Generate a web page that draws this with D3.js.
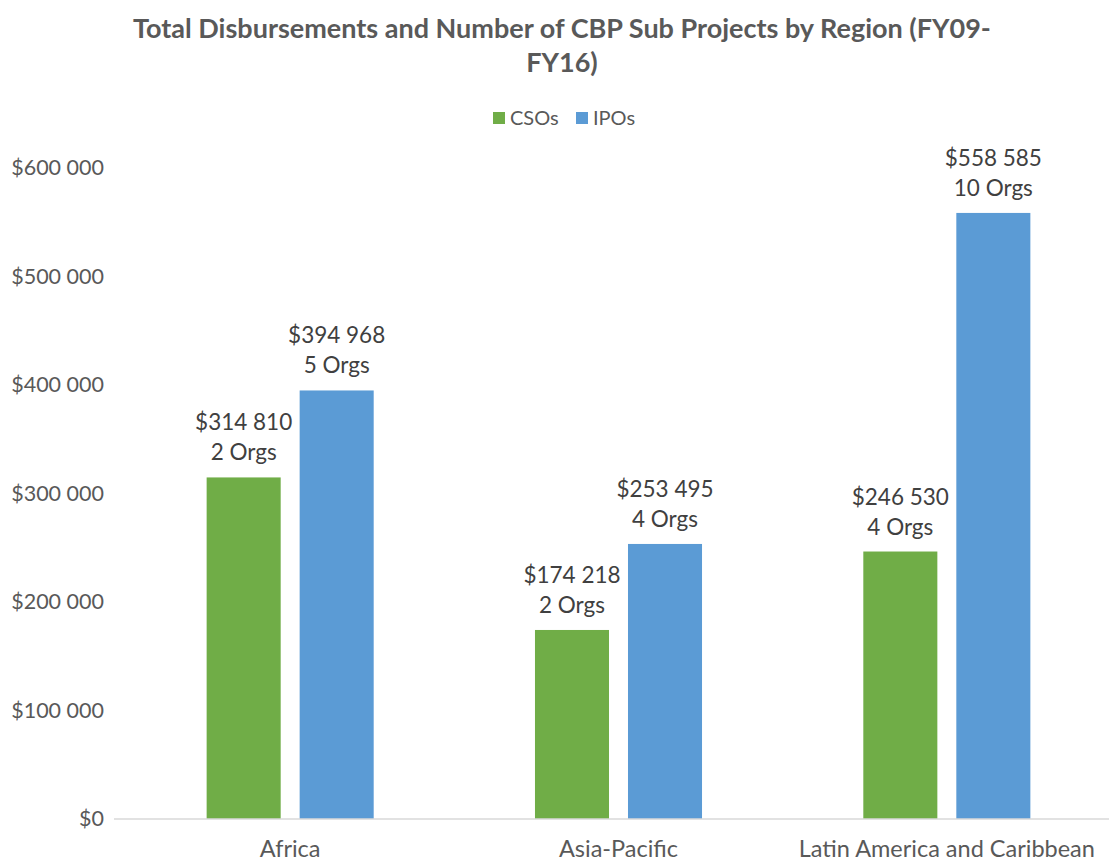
<!DOCTYPE html>
<html>
<head>
<meta charset="utf-8">
<script src="https://cdn.jsdelivr.net/npm/d3@7"></script>
<style>
  body { margin: 0; background: #fff; }
  svg text { font-family: Lato, "Open Sans", sans-serif; }
</style>
</head>
<body>
<svg id="chart" width="1109" height="864"></svg>
<script>
// Data
const regions = ["Africa", "Asia-Pacific", "Latin America and Caribbean"];
const seriesNames = ["CSOs", "IPOs"];
const csoValues = [314810, 174218, 246530];
const ipoValues = [394968, 253495, 558585];
const csoOrgs = [2, 2, 4];
const ipoOrgs = [5, 4, 10];
const yTicks = [0, 100000, 200000, 300000, 400000, 500000, 600000];
const colors = ["#70AD47", "#5B9BD5"];

const svg = d3.select("#chart");
const width = +svg.attr("width");
const height = +svg.attr("height");
const margin = { top: 168, right: -2, bottom: 45, left: 126 };
const plotBottom = height - margin.bottom;

const locale = d3.formatLocale({ decimal: ".", thousands: " ", grouping: [3], currency: ["$", ""] });
const money = locale.format("$,.0f");

const x = d3.scaleBand()
    .domain(regions)
    .range([margin.left, width - margin.right])
    .paddingInner(0)
    .paddingOuter(0);

// two bars of ~74px with a ~19px gap, centred in each region band
const xInner = d3.scaleBand()
    .domain(seriesNames)
    .range([0, x.bandwidth()])
    .paddingInner(0.204)
    .paddingOuter(0.867);

const y = d3.scaleLinear()
    .domain([0, 600000])
    .range([plotBottom, margin.top]);

// Title
const title = svg.append("text")
    .attr("text-anchor", "middle")
    .attr("fill", "#595959")
    .attr("font-size", "27px")
    .attr("font-weight", "bold");
title.append("tspan").attr("x", 562).attr("y", 38).text("Total Disbursements and Number of CBP Sub Projects by Region (FY09-");
title.append("tspan").attr("x", 562).attr("y", 72).text("FY16)");

// Legend
const legend = svg.append("g").attr("transform", "translate(493,112)");
const legendPos = [0, 83];
seriesNames.forEach((name, i) => {
    const g = legend.append("g").attr("transform", `translate(${legendPos[i]},0)`);
    g.append("rect").attr("width", 12).attr("height", 12).attr("fill", colors[i]);
    g.append("text")
        .attr("x", 17).attr("y", 13)
        .attr("fill", "#595959")
        .attr("font-size", "20px")
        .text(name);
});

// Y axis labels (no line, no gridlines)
svg.append("g")
    .attr("transform", `translate(104,0)`)
    .call(d3.axisLeft(y).tickValues(yTicks).tickSize(0).tickPadding(0).tickFormat(money))
    .call(g => g.select(".domain").remove())
    .call(g => g.selectAll("text")
        .attr("fill", "#595959")
        .attr("font-size", "21.5px")
        .attr("font-family", "Lato, sans-serif"));

// Bars
const groups = svg.append("g").selectAll("g")
    .data(regions)
    .join("g")
    .attr("transform", d => `translate(${x(d)},0)`);

const barData = (d, i) => [
    { key: "CSOs", value: csoValues[i], orgs: csoOrgs[i], color: colors[0] },
    { key: "IPOs", value: ipoValues[i], orgs: ipoOrgs[i], color: colors[1] }
];

groups.each(function (d, i) {
    const g = d3.select(this);
    const data = barData(d, i);
    g.selectAll("rect")
        .data(data)
        .join("rect")
        .attr("x", b => xInner(b.key))
        .attr("y", b => y(b.value))
        .attr("width", xInner.bandwidth())
        .attr("height", b => y(0) - y(b.value))
        .attr("fill", b => b.color);

    const labels = g.selectAll("text.lbl")
        .data(data)
        .join("text")
        .attr("class", "lbl")
        .attr("text-anchor", "middle")
        .attr("fill", "#404040")
        .attr("font-size", "22.5px");
    labels.append("tspan")
        .attr("x", b => xInner(b.key) + xInner.bandwidth() / 2)
        .attr("y", b => y(b.value) - 47)
        .text(b => money(b.value));
    labels.append("tspan")
        .attr("x", b => xInner(b.key) + xInner.bandwidth() / 2)
        .attr("y", b => y(b.value) - 17)
        .text(b => b.orgs + " Orgs");
});

// X axis
svg.append("line")
    .attr("x1", 114).attr("x2", width)
    .attr("y1", y(0)).attr("y2", y(0))
    .attr("stroke", "#D9D9D9")
    .attr("stroke-width", 1.5);

svg.append("g").selectAll("text")
    .data(regions)
    .join("text")
    .attr("x", d => x(d) + x.bandwidth() / 2)
    .attr("y", 857)
    .attr("text-anchor", "middle")
    .attr("fill", "#595959")
    .attr("font-size", "23.5px")
    .text(d => d);
</script>
</body>
</html>
